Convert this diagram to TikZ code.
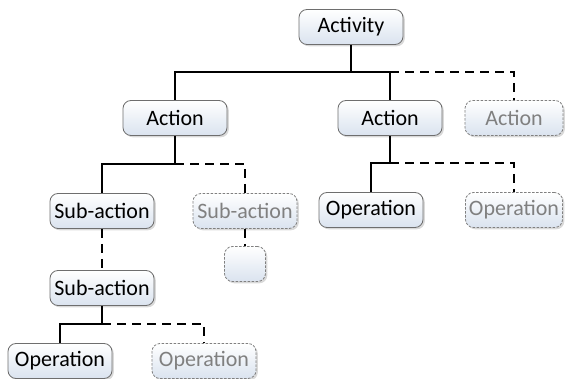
\documentclass[tikz,border=0pt]{standalone}
\usepackage{fontspec}
\setmainfont{Carlito}
\usepackage{tikz}
\usetikzlibrary{
  positioning,
  shadows
}
\definecolor{boxtop}{RGB}{255,255,255}
\definecolor{boxbot}{RGB}{218,227,239}
\definecolor{boxline}{RGB}{110,110,110}
\definecolor{ghosttext}{RGB}{128,128,128}

\begin{document}
\begin{tikzpicture}[x=1pt,y=-1pt,
    box/.style={draw=boxline, line width=0.8pt, rounded corners=8pt,
      top color=boxtop, bottom color=boxbot,
      drop shadow={shadow xshift=1.8pt, shadow yshift=-1.8pt, opacity=0.3},
      minimum width=104pt, minimum height=35pt, inner sep=0pt,
      font=\fontsize{22}{25}\selectfont},
    ghost/.style={box, draw=ghosttext, dash pattern=on 2.5pt off 1.5pt,
      text=ghosttext},
    solidlink/.style={line width=1.7pt},
    dashlink/.style={line width=1.7pt, dash pattern=on 9pt off 6pt}
  ]
    \useasboundingbox (0,0) rectangle (565,379);

    % Top level
    \node[box] (activity) at (351,27) {Activity};

    % Actions
    \node[box] (actA) at (175,118) {Action};
    \node[box] (actB) at (390,118) {Action};
    \node[ghost, minimum width=98pt] (actC) at (514,118) {Action};

    % Sub-actions under the left action
    \node[box] (subA) at (102,211) {Sub-action};
    \node[ghost] (subB) at (245,211) {Sub-action};
    \node[ghost, minimum width=41pt] (subE) at (245,264) {};
    \node[box] (subC) at (102,288) {Sub-action};

    % Operations
    \node[box] (opA) at (60,361) {Operation};
    \node[ghost] (opB) at (204,361) {Operation};
    \node[box] (opC) at (371,210) {Operation};
    \node[ghost, minimum width=97pt] (opD) at (514,210) {Operation};

    % Connectors
    \draw[solidlink] (activity.south) -- ++(0,27) coordinate (bus1) -| (actA.north);
    \draw[solidlink] (bus1) -| (actB.north);
    \draw[dashlink] (actB.north |- bus1) -| (actC.north);

    \draw[solidlink] (actA.south) -- ++(0,28) coordinate (bus2) -| (subA.north);
    \draw[dashlink] (bus2) -| (subB.north);
    \draw[dashlink] (subB.south) -- (subE.north);
    \draw[dashlink] (subA.south) -- (subC.north);

    \draw[solidlink] (subC.south) -- ++(0,18) coordinate (bus3) -| (opA.north);
    \draw[dashlink] (bus3) -| (opB.north);

    \draw[solidlink] (actB.south) -- ++(0,27) coordinate (bus4) -| (opC.north);
    \draw[dashlink] (bus4) -| (opD.north);
\end{tikzpicture}
\end{document}
